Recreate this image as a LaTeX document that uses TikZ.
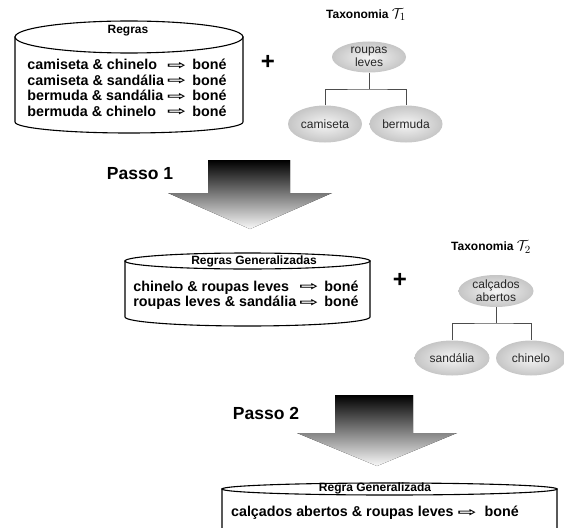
\documentclass[tikz,border=0pt]{standalone}
\usepackage{fontspec}
\setmainfont{Liberation Sans}
\newfontfamily\symfont{DejaVu Sans}
\usetikzlibrary{shapes,positioning}
\newcommand{\implica}{\raisebox{0.5pt}{\scalebox{1.6}[0.85]{\symfont\char"21E8}}}

\begin{document}
\begin{tikzpicture}[x=1pt,y=-1pt]

  \tikzstyle{drum} = [draw=black, line width=1.1pt, fill=white]
  \tikzstyle{tax} = [ellipse, inner sep=0pt, inner color=gray!8, outer color=gray!45, font=\fontsize{12}{13}\selectfont, text=black!85, align=center]
  \tikzstyle{title} = [font=\bfseries\fontsize{12}{14}\selectfont]
  \tikzstyle{rules} = [font=\bfseries\fontsize{14.3}{15.5}\selectfont, inner sep=0pt]
  \tikzstyle{passo} = [font=\bfseries\fontsize{17.5}{20}\selectfont]
  \tikzstyle{plus} = [font=\bfseries\fontsize{24}{24}\selectfont]
  \tikzstyle{bigarrow} = [top color=black, bottom color=gray!5]
  \tikzstyle{branch} = [draw=black!70, line width=0.8pt]

  \useasboundingbox (0,0) rectangle (564,527);
  \clip (0,0) rectangle (564,527);

  % regras originais
  \draw[drum] (15,37) -- (15,122) arc[start angle=180, end angle=0, x radius=114, y radius=11] -- (243,37) -- cycle;
  \draw[drum] (129,37) ellipse [x radius=114, y radius=16];
  \node[title] (tit1) at (128,31) {Regras};
  \node[rules] (regras1) at (127,90) {\begin{tabular}{@{}l@{\hspace{3pt}}c@{\hspace{6pt}}l@{}}
    camiseta \& chinelo & \implica & boné\\
    camiseta \& sandália & \implica & boné\\
    bermuda \& sandália & \implica & boné\\
    bermuda \& chinelo & \implica & boné
  \end{tabular}};
  \node[plus] (mais1) at (268,62) {+};

  % taxonomia 1
  \node[title] (tax1) at (366,15) {Taxonomia {\fontsize{15}{16}\selectfont$\mathcal{T}_1$}};
  \node[tax, minimum width=74pt, minimum height=31pt] (roupas) at (369,57) {roupas\\leves};
  \node[tax, minimum width=74pt, minimum height=37pt] (camiseta) at (325,124) {camiseta};
  \node[tax, minimum width=73pt, minimum height=37pt] (bermuda) at (406,124) {bermuda};
  \coordinate (ramo1) at (369,89);
  \draw[branch] (roupas.south) -- (ramo1);
  \draw[branch] (camiseta.north) |- (ramo1) -| (bermuda.north);

  % passo 1
  \node[passo] (passo1) at (140,174) {Passo 1};
  \fill[bigarrow] (208,160) -- (290,160) -- (290,193) -- (332,193) -- (250,229) -- (168,193) -- (208,193) -- cycle;

  % regras generalizadas
  \draw[drum] (125,261) -- (125,317) arc[start angle=180, end angle=0, x radius=122.5, y radius=9] -- (370,261) -- cycle;
  \draw[drum] (247.5,261) ellipse [x radius=122.5, y radius=8];
  \node[title] (tit2) at (254,261) {Regras Generalizadas};
  \node[rules] (regras2) at (246,296) {\begin{tabular}{@{}l@{\hspace{3pt}}c@{\hspace{6pt}}l@{}}
    chinelo \& roupas leves & \implica & boné\\
    roupas leves \& sandália & \implica & boné
  \end{tabular}};
  \node[plus] (mais2) at (400,280) {+};

  % taxonomia 2
  \node[title] (tax2) at (491,247) {Taxonomia {\fontsize{15}{16}\selectfont$\mathcal{T}_2$}};
  \node[tax, minimum width=75pt, minimum height=32pt] (calcados) at (496,291) {calçados\\abertos};
  \node[tax, minimum width=75pt, minimum height=35pt] (sandalia) at (452,358) {sandália};
  \node[tax, minimum width=70pt, minimum height=35pt] (chinelo) at (531,358) {chinelo};
  \coordinate (ramo2) at (496,323);
  \draw[branch] (calcados.south) -- (ramo2);
  \draw[branch] (sandalia.north) |- (ramo2) -| (chinelo.north);

  % passo 2
  \node[passo] (passo2) at (266,413) {Passo 2};
  \fill[bigarrow] (335,395) -- (413,395) -- (413,433) -- (457,433) -- (377,466) -- (297,433) -- (335,433) -- cycle;

  % regra generalizada
  \draw[drum] (222,489) -- (222,535) arc[start angle=180, end angle=0, x radius=167.5, y radius=9] -- (557,489) -- cycle;
  \draw[drum] (389.5,489) ellipse [x radius=167.5, y radius=6];
  \node[title] (tit3) at (375,488) {Regra Generalizada};
  \node[rules] (regra3) at (375,513) {calçados abertos \& roupas leves \implica\ \ boné};

\end{tikzpicture}
\end{document}
